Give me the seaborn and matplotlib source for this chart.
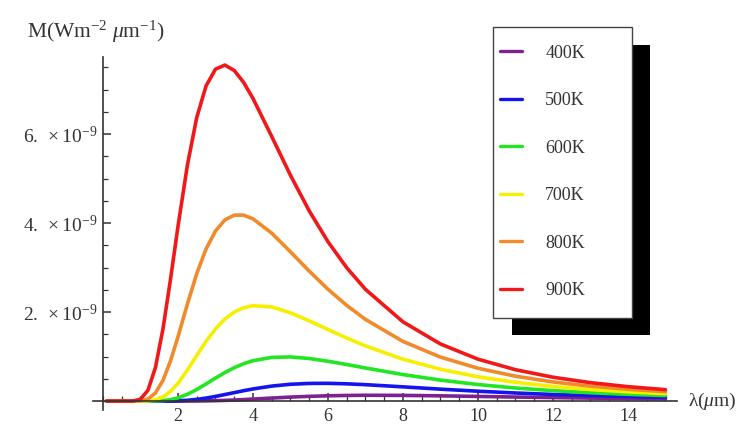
import pandas as pd
import matplotlib
matplotlib.use("Agg")
import matplotlib.pyplot as plt
from matplotlib.patches import Rectangle
from matplotlib.ticker import MultipleLocator
import seaborn as sns

# wavelength in micrometres, exitance in units of 1e-9
wavelength = [0.1, 0.8, 1.0, 1.2, 1.4, 1.6, 1.8, 2.0, 2.25, 2.5,
              2.75, 3.0, 3.25, 3.5, 3.75, 4.0, 4.5, 5.0, 5.5, 6.0,
              6.5, 7.0, 8.0, 9.0, 10.0, 11.0, 12.0, 13.0, 14.0, 15.0]

m_400 = [0, 0, 0, 0, 0, 0, 0, 0, 0.001, 0.002,
         0.005, 0.010, 0.016, 0.024, 0.034, 0.045, 0.068, 0.090, 0.107, 0.119,
         0.127, 0.131, 0.128, 0.118, 0.105, 0.091, 0.079, 0.067, 0.057, 0.049]
m_500 = [0, 0, 0, 0, 0, 0.001, 0.002, 0.007, 0.018, 0.038,
         0.068, 0.105, 0.147, 0.190, 0.233, 0.273, 0.337, 0.378, 0.397, 0.399,
         0.388, 0.369, 0.320, 0.268, 0.222, 0.182, 0.149, 0.123, 0.102, 0.084]
m_600 = [0, 0, 0, 0, 0.003, 0.011, 0.032, 0.072, 0.152, 0.260,
         0.386, 0.517, 0.641, 0.750, 0.839, 0.907, 0.982, 0.992, 0.957, 0.895,
         0.822, 0.744, 0.596, 0.471, 0.372, 0.294, 0.234, 0.188, 0.152, 0.124]
m_700 = [0, 0, 0, 0.005, 0.029, 0.094, 0.216, 0.400, 0.695, 1.024,
         1.343, 1.621, 1.842, 1.999, 2.097, 2.143, 2.115, 1.983, 1.803, 1.608,
         1.417, 1.240, 0.941, 0.715, 0.546, 0.422, 0.329, 0.260, 0.207, 0.167]
m_800 = [0, 0, 0.006, 0.046, 0.182, 0.466, 0.901, 1.445, 2.179, 2.863,
         3.421, 3.822, 4.069, 4.178, 4.178, 4.095, 3.773, 3.353, 2.920, 2.512,
         2.150, 1.835, 1.340, 0.988, 0.738, 0.559, 0.430, 0.335, 0.265, 0.211]
m_900 = [0, 0.002, 0.042, 0.245, 0.760, 1.623, 2.735, 3.925, 5.298, 6.371,
         7.084, 7.457, 7.549, 7.428, 7.160, 6.799, 5.944, 5.071, 4.272, 3.580,
         2.996, 2.510, 1.780, 1.283, 0.942, 0.705, 0.536, 0.414, 0.324, 0.257]

temps = ["400K", "500K", "600K", "700K", "800K", "900K"]
series = [m_400, m_500, m_600, m_700, m_800, m_900]
colors = ["#7d2191", "#1414ec", "#22e622", "#f6f000", "#f08a2a", "#f01818"]

y_ticks = [2, 4, 6]
y_tick_labels = [r"$2.\ \times 10^{-9}$", r"$4.\ \times 10^{-9}$", r"$6.\ \times 10^{-9}$"]
x_ticks = [2, 4, 6, 8, 10, 12, 14]

# long table for seaborn
df = pd.concat(
    [pd.DataFrame({"wavelength": wavelength, "M": vals, "T": t}) for t, vals in zip(temps, series)],
    ignore_index=True,
)

sns.set_theme(style="white")
plt.rcParams["font.family"] = ["Liberation Serif", "DejaVu Serif"]
plt.rcParams["mathtext.fontset"] = "custom"
plt.rcParams["mathtext.rm"] = "Liberation Serif"
plt.rcParams["mathtext.it"] = "Liberation Serif:italic"
plt.rcParams["mathtext.bf"] = "Liberation Serif:bold"

fig = plt.figure(figsize=(7.49, 4.29), dpi=100)
ax = fig.add_axes([0.124, 0.0443, 0.7795, 0.8228])

sns.lineplot(data=df, x="wavelength", y="M", hue="T", hue_order=temps,
             palette=dict(zip(temps, colors)), linewidth=2.6, sort=False,
             estimator=None, solid_joinstyle="round", ax=ax)

ax.set_xlim(-0.27, 15.3)
ax.set_ylim(-0.2, 7.73)

# Mathematica-like axes through the origin
for side in ["top", "right"]:
    ax.spines[side].set_visible(False)
for side in ["left", "bottom"]:
    ax.spines[side].set_position(("data", 0))
    ax.spines[side].set_color("#333333")
    ax.spines[side].set_linewidth(1.2)

ax.set_xticks(x_ticks)
ax.set_xticklabels([str(v) for v in x_ticks])
ax.set_yticks(y_ticks)
ax.set_yticklabels(y_tick_labels)
ax.xaxis.set_minor_locator(MultipleLocator(0.5))
ax.yaxis.set_minor_locator(MultipleLocator(0.5))
ax.tick_params(which="both", direction="in", color="#333333", labelsize=13,
               labelcolor="#333333", bottom=True, left=True)
ax.tick_params(axis="y", labelsize=14)
ax.tick_params(which="major", length=6, width=1.1)
ax.tick_params(which="minor", length=3.5, width=0.9)
ax.tick_params(axis="x", pad=5)
ax.tick_params(axis="y", pad=4)
ax.set_xlabel("")
ax.set_ylabel("")

fig.text(0.036, 0.925, r"M(Wm$^{-2}\ \mu$m$^{-1}$)", fontsize=15.5,
         color="#333333", ha="left", va="center")
fig.text(0.918, 0.065, r"λ($\mu$m)", fontsize=14, color="#333333",
         ha="left", va="center")

# legend box with a solid black drop shadow
ax.add_patch(Rectangle((512 / 749, 1 - 335 / 429), 138 / 749, 290 / 429,
                       transform=fig.transFigure, facecolor="black",
                       edgecolor="none", clip_on=False, zorder=3))
ax.add_patch(Rectangle((493 / 749, 1 - 318 / 429), 139 / 749, 291 / 429,
                       transform=fig.transFigure, facecolor="white",
                       edgecolor="#444444", linewidth=1.0, clip_on=False, zorder=3.5))

handles, labels = ax.get_legend_handles_labels()
leg = ax.legend(handles, labels, loc="upper left",
                bbox_to_anchor=(500 / 749, 1 - 44.5 / 429),
                bbox_transform=fig.transFigure, frameon=False, fontsize=13,
                handlelength=1.22, handletextpad=1.28, labelspacing=1.69,
                borderpad=0, borderaxespad=0)
leg.set_zorder(5)
for line in leg.get_lines():
    line.set_linewidth(2.4)
for txt in leg.get_texts():
    txt.set_color("#333333")

fig.savefig("out.png", dpi=100)
